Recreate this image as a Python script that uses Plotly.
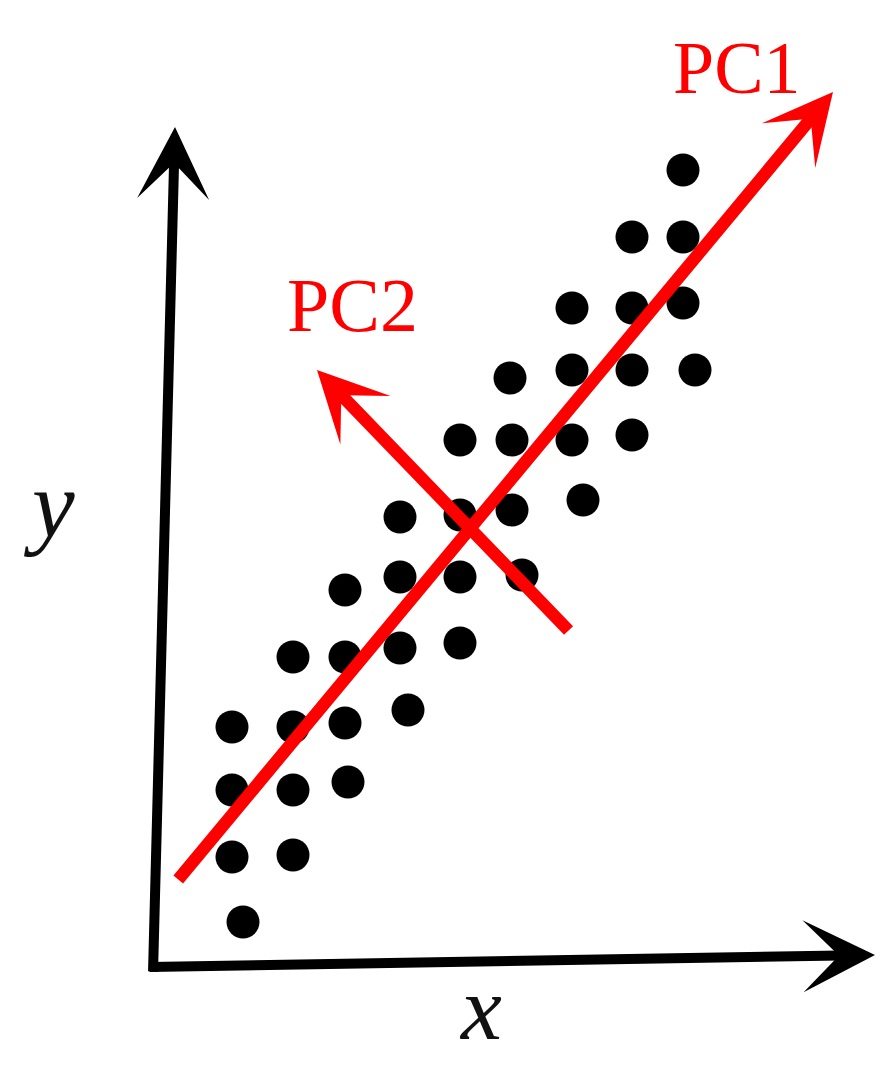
import plotly.graph_objects as go

# Canvas-style coordinates (x to the right, y downward)
dots_x = [683, 632, 683, 572, 632, 683, 510, 572, 632, 695, 460, 512, 572, 632,
          400, 460, 512, 583, 400, 460, 522, 345, 400, 460, 293, 345, 408,
          232, 293, 345, 232, 293, 348, 232, 293, 243]
dots_y = [170, 237, 237, 308, 308, 303, 378, 370, 370, 370, 440, 440, 440, 435,
          517, 515, 510, 500, 577, 577, 575, 590, 648, 643, 657, 657, 710,
          727, 727, 723, 790, 790, 782, 857, 855, 922]

# arrows: (start_x, start_y, tip_x, tip_y)
y_axis_arrow = (153, 973, 175, 127)
x_axis_arrow = (148, 967, 875, 955)
pc1_arrow = (177, 881, 833, 92)
pc2_arrow = (570, 632, 317, 370)

labels = [
    {"text": "PC1", "x": 737, "y": 68, "color": "#ff0000", "italic": False, "size": 74},
    {"text": "PC2", "x": 352, "y": 305, "color": "#ff0000", "italic": False, "size": 76},
    {"text": "y", "x": 49, "y": 504, "color": "#111111", "italic": True, "size": 96},
    {"text": "x", "x": 480, "y": 1008, "color": "#111111", "italic": True, "size": 92},
]

W, H = 894, 1069

fig = go.Figure()
fig.add_trace(go.Scatter(
    x=dots_x, y=dots_y, mode="markers",
    marker=dict(size=33, color="black", line=dict(width=0)),
    hoverinfo="skip", showlegend=False,
))

annotations = []


def arrow(a, color, width, size):
    sx, sy, tx, ty = a
    return dict(x=tx, y=ty, ax=sx, ay=sy, xref="x", yref="y", axref="x", ayref="y",
                text="", showarrow=True, arrowhead=3, arrowsize=size,
                arrowwidth=width, arrowcolor=color, standoff=0, startstandoff=0)


annotations.append(arrow(y_axis_arrow, "black", 10, 1.2))
annotations.append(arrow(x_axis_arrow, "black", 10, 1.2))
annotations.append(arrow(pc1_arrow, "#ff0000", 12.5, 0.93))
annotations.append(arrow(pc2_arrow, "#ff0000", 12.5, 0.93))

for lb in labels:
    annotations.append(dict(
        x=lb["x"], y=lb["y"], xref="x", yref="y", showarrow=False,
        text=lb["text"], xanchor="center", yanchor="middle",
        font=dict(family="Liberation Serif", size=lb["size"], color=lb["color"],
                  style="italic" if lb["italic"] else "normal"),
    ))

fig.update_layout(
    width=W, height=H, autosize=False,
    margin=dict(l=0, r=0, t=0, b=0, pad=0),
    paper_bgcolor="white", plot_bgcolor="white",
    xaxis=dict(range=[0, W], visible=False, fixedrange=True),
    yaxis=dict(range=[H, 0], visible=False, fixedrange=True),
    annotations=annotations,
    showlegend=False,
)

fig.write_html("out.html", config={"displayModeBar": False},
               post_script="document.body.style.margin='0';document.body.style.overflow='hidden';")
